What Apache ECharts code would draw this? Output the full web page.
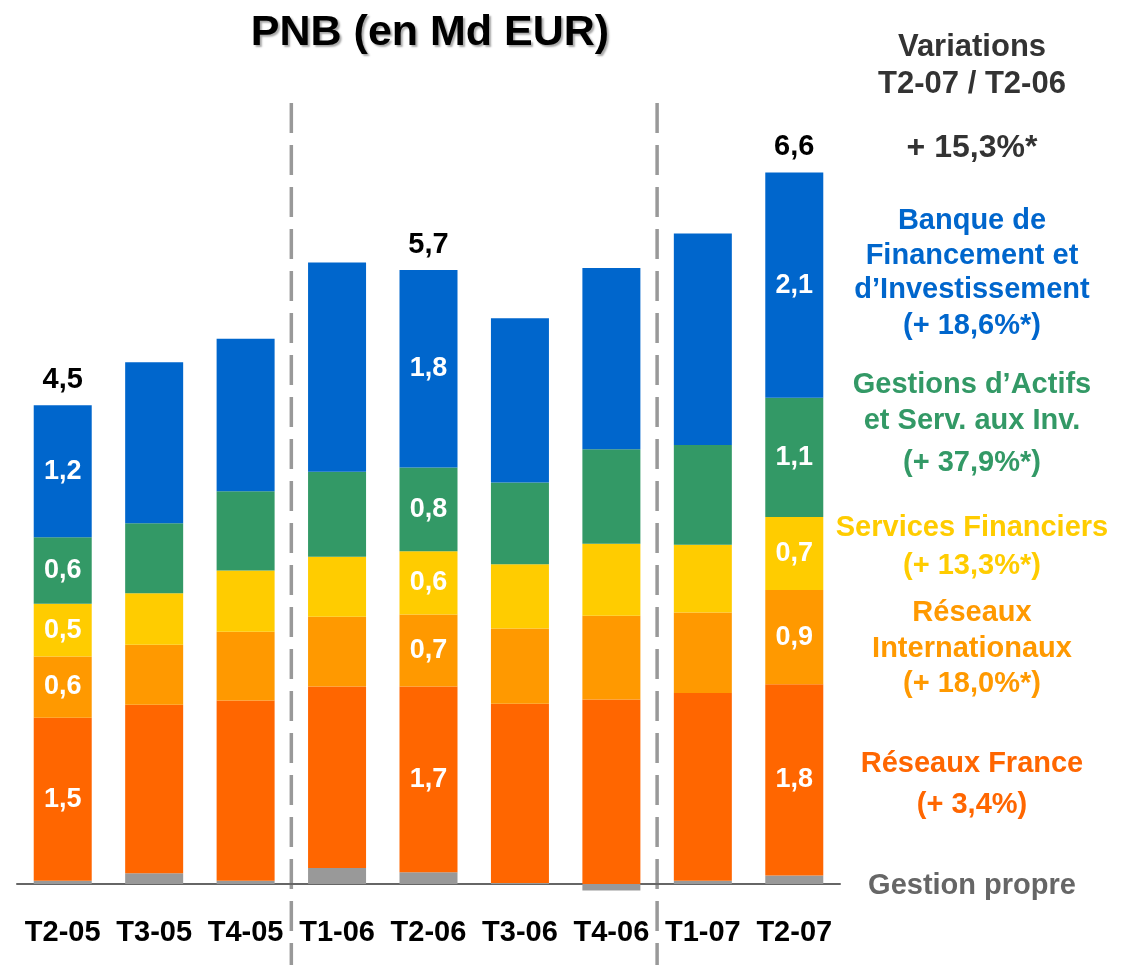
<html>

<head>
    <meta charset="utf-8">
    <script src="https://cdn.jsdelivr.net/npm/echarts@6/dist/echarts.min.js"></script>
</head>
<style>
    body {
        margin: 0;
        background: #fff;
    }

    #pnb {
        width: 1131px;
        height: 965px;
    }
</style>

<body>
    <div id="pnb"></div>
    <script>
        // PNB par pôle, en Md EUR
        const categories = ['T2-05', 'T3-05', 'T4-05', 'T1-06', 'T2-06', 'T3-06', 'T4-06', 'T1-07', 'T2-07']
        const gestionPropre = [0.03, 0.10, 0.03, 0.15, 0.11, 0.01, -0.06, 0.03, 0.08]
        const reseauxFrance = [1.52, 1.57, 1.68, 1.69, 1.73, 1.67, 1.72, 1.75, 1.78]
        const reseauxInter = [0.57, 0.56, 0.64, 0.65, 0.67, 0.70, 0.78, 0.75, 0.88]
        const servicesFin = [0.49, 0.48, 0.57, 0.56, 0.59, 0.60, 0.67, 0.63, 0.68]
        const gestionsActifs = [0.62, 0.65, 0.74, 0.79, 0.78, 0.76, 0.88, 0.93, 1.11]
        const bfi = [1.23, 1.50, 1.42, 1.95, 1.84, 1.53, 1.69, 1.97, 2.10]
        // only these quarters get value labels
        const labelled = [0, 4, 8]
        // separators sit between these category indexes
        const separators = [3, 7]

        const FONT = '"Liberation Sans", Arial, sans-serif'
        const fmt = v => v.toFixed(1).replace('.', ',')

        const totals = categories.map((c, i) =>
            gestionPropre[i] + reseauxFrance[i] + reseauxInter[i] + servicesFin[i] + gestionsActifs[i] + bfi[i])

        function segment(name, data, color, withLabel) {
            return {
                name: name,
                type: 'bar',
                stack: 'pnb',
                barWidth: 58,
                clip: false,
                data: data,
                itemStyle: { color: color },
                label: {
                    show: withLabel,
                    position: 'inside',
                    color: '#fff',
                    fontFamily: FONT,
                    fontWeight: 'bold',
                    fontSize: 27,
                    formatter: p => labelled.indexOf(p.dataIndex) >= 0 ? fmt(p.value) : ''
                }
            }
        }

        const option = {
            animation: false,
            grid: {
                left: 17,
                right: 291,
                top: 79,
                bottom: 81,
                outerBoundsMode: 'none',
                containLabel: false
            },
            xAxis: {
                type: 'category',
                data: categories,
                axisLine: { lineStyle: { color: '#666', width: 2 } },
                axisTick: { show: false },
                axisLabel: {
                    interval: 0,
                    margin: 34,
                    color: '#000',
                    fontFamily: FONT,
                    fontWeight: 'bold',
                    fontSize: 29
                }
            },
            yAxis: {
                type: 'value',
                min: 0,
                max: 7.5,
                show: false
            },
            series: [
                segment('Gestion propre', gestionPropre, '#999999', false),
                segment('Réseaux France', reseauxFrance, '#FF6600', true),
                segment('Réseaux Internationaux', reseauxInter, '#FF9900', true),
                segment('Services Financiers', servicesFin, '#FFCC00', true),
                segment('Gestions d’Actifs et Serv. aux Inv.', gestionsActifs, '#339966', true),
                segment('Banque de Financement et d’Investissement', bfi, '#0066CC', true),
                {
                    name: 'Total',
                    type: 'bar',
                    stack: 'pnb',
                    barWidth: 58,
                    data: categories.map(() => 0),
                    label: {
                        show: true,
                        position: 'top',
                        distance: 11,
                        color: '#000',
                        fontFamily: FONT,
                        fontWeight: 'bold',
                        fontSize: 29,
                        formatter: p => labelled.indexOf(p.dataIndex) >= 0 ? fmt(totals[p.dataIndex]) : ''
                    }
                }
            ]
        }

        const chart = echarts.init(document.getElementById('pnb'))
        chart.setOption(option)

        function note(text, y, color, size) {
            return {
                type: 'text',
                x: 972,
                y: y,
                style: {
                    text: text,
                    fill: color,
                    font: 'bold ' + size + 'px ' + FONT,
                    textAlign: 'center',
                    textVerticalAlign: 'middle'
                }
            }
        }

        // dashed separators between years
        const step = chart.convertToPixel({ xAxisIndex: 0 }, 1) - chart.convertToPixel({ xAxisIndex: 0 }, 0)
        const lines = separators.map(idx => {
            const x = chart.convertToPixel({ xAxisIndex: 0 }, idx) - step / 2
            return {
                type: 'line',
                shape: { x1: x, y1: 103, x2: x, y2: 965 },
                style: { stroke: '#999', lineWidth: 3.5, lineDash: [30, 12] }
            }
        })

        const texts = [
            {
                type: 'text',
                x: 430,
                y: 33,
                style: {
                    text: 'PNB (en Md EUR)',
                    fill: '#000',
                    font: 'bold 43px ' + FONT,
                    textAlign: 'center',
                    textVerticalAlign: 'middle',
                    textShadowColor: 'rgba(0,0,0,0.35)',
                    textShadowOffsetX: 2,
                    textShadowOffsetY: 2,
                    textShadowBlur: 2
                }
            },
            note('Variations', 47, '#333', 31),
            note('T2-07 / T2-06', 84, '#333', 31),
            note('+ 15,3%*', 148, '#333', 32),
            note('Banque de', 221, '#0066CC', 29),
            note('Financement et', 256, '#0066CC', 29),
            note('d’Investissement', 290, '#0066CC', 29),
            note('(+ 18,6%*)', 326, '#0066CC', 29),
            note('Gestions d’Actifs', 385, '#339966', 29),
            note('et Serv. aux Inv.', 421, '#339966', 29),
            note('(+ 37,9%*)', 463, '#339966', 29),
            note('Services Financiers', 528, '#FFCC00', 29),
            note('(+ 13,3%*)', 566, '#FFCC00', 29),
            note('Réseaux', 613, '#FF9900', 29),
            note('Internationaux', 649, '#FF9900', 29),
            note('(+ 18,0%*)', 684, '#FF9900', 29),
            note('Réseaux France', 764, '#FF6600', 29),
            note('(+ 3,4%)', 805, '#FF6600', 29),
            note('Gestion propre', 886, '#666', 29)
        ]

        chart.setOption({ graphic: lines.concat(texts) })
    </script>
</body>

</html>
